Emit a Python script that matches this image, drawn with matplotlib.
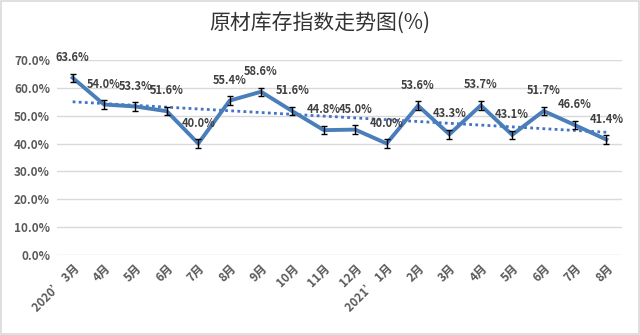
import matplotlib.pyplot as plt
import numpy as np

plt.rcParams['font.family'] = ['Noto Sans CJK SC', 'DejaVu Sans']

# 月份和原材料库存指数
months = ["2020’ 3月", "4月", "5月", "6月", "7月", "8月", "9月", "10月", "11月", "12月",
          "2021’ 1月", "2月", "3月", "4月", "5月", "6月", "7月", "8月"]
values = [63.6, 54.0, 53.3, 51.6, 40.0, 55.4, 58.6, 51.6, 44.8, 45.0,
          40.0, 53.6, 43.3, 53.7, 43.1, 51.7, 46.6, 41.4]
err = 1.5
y_ticks = [0, 10, 20, 30, 40, 50, 60, 70]

x = np.arange(len(months))
vals = np.array(values)

fig = plt.figure(figsize=(6.4, 3.35), dpi=100)
ax = fig.add_axes([0.089, 0.239, 0.883, 0.582])

# 边框
fig.patches.append(plt.Rectangle((0.002, 0.003), 0.996, 0.994, transform=fig.transFigure,
                                 fill=False, edgecolor="#D9D9D9", linewidth=1.2))

ax.plot(x, vals, color="#4A7EBB", linewidth=2.8, zorder=3, solid_joinstyle="miter")
ax.errorbar(x, vals, yerr=err, fmt="none", ecolor="black", elinewidth=1, capsize=2.5,
            capthick=1, zorder=4)

# 线性趋势线
k, b = np.polyfit(x, vals, 1)
ax.plot(x, k * x + b, color="#4472C4", linestyle=(0, (1, 1.2)), linewidth=2, zorder=2)

for xi, v in zip(x, values):
    ax.annotate(f"{v:.1f}%", (xi, v), xytext=(0, 10), textcoords="offset points",
                ha="center", va="bottom", fontsize=8, fontweight="bold", color="#404040", zorder=5)

ax.set_xlim(-0.5, len(months) - 0.5)
ax.set_ylim(0, 70)
ax.set_yticks(y_ticks)
ax.set_yticklabels([f"{t:.1f}%" for t in y_ticks], fontsize=8.5, fontweight="bold", color="#595959")
ax.set_xticks(x)
ax.set_xticklabels(months, rotation=45, ha="right", rotation_mode="anchor",
                   fontsize=8.5, fontweight="bold", color="#595959")
ax.tick_params(length=0, pad=5)
ax.grid(axis="y", color="#D9D9D9", linewidth=1)
ax.set_axisbelow(True)
for s in ax.spines.values():
    s.set_visible(False)

fig.text(0.5, 0.932, "原材库存指数走势图(%)", ha="center", va="center",
         fontsize=15, color="#333333")

fig.savefig("out.png", dpi=100)
